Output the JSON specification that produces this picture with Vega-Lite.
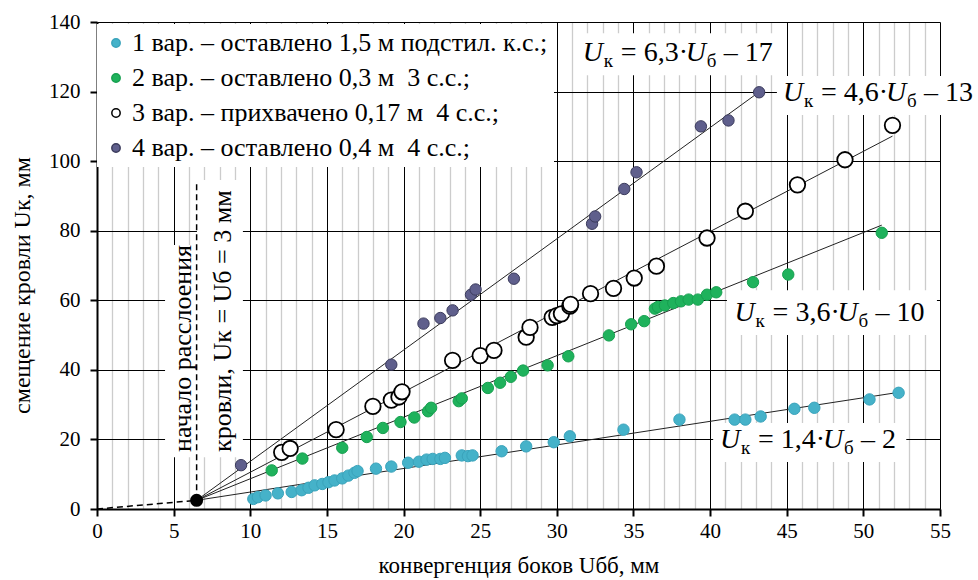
{
  "$schema": "https://vega.github.io/schema/vega-lite/v6.json",
  "width": 843,
  "height": 487,
  "autosize": {"type": "none"},
  "padding": {"left": 97, "top": 22, "right": 38, "bottom": 71},
  "background": "white",
  "config": {"view": {"stroke": null}, "font": "Liberation Serif"},
  "datasets": {
    "boxes": [
      {"x": 4.44, "xe": 6.52, "y": 14.9, "ye": 75.9},
      {"x": 6.52, "xe": 9.52, "y": 14.9, "ye": 94.6},
      {"x": 31.18, "xe": 45.0, "y": 124.7, "ye": 136.8},
      {"x": 44.36, "xe": 57.5, "y": 113.3, "ye": 124.5},
      {"x": 41.1, "xe": 54.8, "y": 50.0, "ye": 62.9},
      {"x": 40.2, "xe": 52.8, "y": 13.5, "ye": 24.7}
    ],
    "dash": [
      {"g": "a", "x": 0, "y": 0}, {"g": "a", "x": 6.5, "y": 2.5},
      {"g": "b", "x": 6.5, "y": 2.5}, {"g": "b", "x": 6.5, "y": 94}
    ],
    "fits": [
      {"g": "1", "x": 6.5, "y": 2.5}, {"g": "1", "x": 52.4, "y": 33.6},
      {"g": "2", "x": 6.5, "y": 2.5}, {"g": "2", "x": 51.2, "y": 81.6},
      {"g": "3", "x": 6.5, "y": 2.5}, {"g": "3", "x": 51.9, "y": 107.2},
      {"g": "4", "x": 6.5, "y": 2.5}, {"g": "4", "x": 43.3, "y": 120.2}
    ],
    "origin": [{"x": 6.5, "y": 2.5}],
    "pts": [
      {"s": "1", "x": 10.2, "y": 2.9}, {"s": "1", "x": 10.5, "y": 3.4}, {"s": "1", "x": 11.0, "y": 3.9},
      {"s": "1", "x": 11.8, "y": 4.5}, {"s": "1", "x": 12.7, "y": 4.9}, {"s": "1", "x": 13.35, "y": 5.4},
      {"s": "1", "x": 13.8, "y": 6.1}, {"s": "1", "x": 14.2, "y": 6.8}, {"s": "1", "x": 14.7, "y": 7.2},
      {"s": "1", "x": 15.1, "y": 7.7}, {"s": "1", "x": 15.5, "y": 8.2}, {"s": "1", "x": 16.0, "y": 8.8},
      {"s": "1", "x": 16.4, "y": 9.6}, {"s": "1", "x": 16.8, "y": 10.4}, {"s": "1", "x": 17.0, "y": 10.9},
      {"s": "1", "x": 18.2, "y": 11.6}, {"s": "1", "x": 19.2, "y": 12.2}, {"s": "1", "x": 20.3, "y": 13.3},
      {"s": "1", "x": 21.0, "y": 13.6}, {"s": "1", "x": 21.5, "y": 14.2}, {"s": "1", "x": 21.9, "y": 14.4},
      {"s": "1", "x": 22.4, "y": 14.4}, {"s": "1", "x": 22.7, "y": 14.7}, {"s": "1", "x": 23.8, "y": 15.4},
      {"s": "1", "x": 24.2, "y": 15.2}, {"s": "1", "x": 24.5, "y": 15.4}, {"s": "1", "x": 26.4, "y": 16.6},
      {"s": "1", "x": 28.0, "y": 18.0}, {"s": "1", "x": 29.8, "y": 19.2}, {"s": "1", "x": 30.85, "y": 20.9},
      {"s": "1", "x": 34.35, "y": 22.8}, {"s": "1", "x": 38.0, "y": 25.7}, {"s": "1", "x": 41.6, "y": 25.7},
      {"s": "1", "x": 42.3, "y": 25.7}, {"s": "1", "x": 43.3, "y": 26.6}, {"s": "1", "x": 45.5, "y": 28.8},
      {"s": "1", "x": 46.8, "y": 29.1}, {"s": "1", "x": 50.4, "y": 31.5}, {"s": "1", "x": 52.3, "y": 33.4},

      {"s": "2", "x": 11.4, "y": 11.1}, {"s": "2", "x": 13.4, "y": 14.5}, {"s": "2", "x": 16.0, "y": 17.6},
      {"s": "2", "x": 17.6, "y": 20.7}, {"s": "2", "x": 18.65, "y": 23.3}, {"s": "2", "x": 19.8, "y": 25.0},
      {"s": "2", "x": 20.7, "y": 26.3}, {"s": "2", "x": 21.6, "y": 28.1}, {"s": "2", "x": 21.8, "y": 29.1},
      {"s": "2", "x": 23.6, "y": 31.0}, {"s": "2", "x": 23.8, "y": 31.8}, {"s": "2", "x": 25.5, "y": 34.8},
      {"s": "2", "x": 26.3, "y": 36.3}, {"s": "2", "x": 27.0, "y": 38.0}, {"s": "2", "x": 27.8, "y": 39.8},
      {"s": "2", "x": 29.4, "y": 41.3}, {"s": "2", "x": 30.75, "y": 43.9}, {"s": "2", "x": 33.4, "y": 49.9},
      {"s": "2", "x": 34.85, "y": 53.1}, {"s": "2", "x": 35.7, "y": 54.0}, {"s": "2", "x": 36.4, "y": 57.6},
      {"s": "2", "x": 36.6, "y": 58.1}, {"s": "2", "x": 37.05, "y": 58.5}, {"s": "2", "x": 37.6, "y": 59.2},
      {"s": "2", "x": 38.1, "y": 59.7}, {"s": "2", "x": 38.6, "y": 60.2}, {"s": "2", "x": 39.2, "y": 60.2},
      {"s": "2", "x": 39.8, "y": 61.6}, {"s": "2", "x": 40.4, "y": 62.3}, {"s": "2", "x": 42.8, "y": 65.2},
      {"s": "2", "x": 45.1, "y": 67.4}, {"s": "2", "x": 51.2, "y": 79.4},

      {"s": "3", "x": 12.05, "y": 16.3}, {"s": "3", "x": 12.6, "y": 17.4}, {"s": "3", "x": 15.6, "y": 22.8},
      {"s": "3", "x": 18.0, "y": 29.5}, {"s": "3", "x": 19.2, "y": 31.3}, {"s": "3", "x": 19.7, "y": 32.2},
      {"s": "3", "x": 19.9, "y": 33.7}, {"s": "3", "x": 23.2, "y": 42.7}, {"s": "3", "x": 25.0, "y": 44.1},
      {"s": "3", "x": 25.9, "y": 45.6}, {"s": "3", "x": 28.0, "y": 49.4}, {"s": "3", "x": 28.25, "y": 52.2},
      {"s": "3", "x": 29.7, "y": 55.1}, {"s": "3", "x": 30.0, "y": 55.6}, {"s": "3", "x": 30.3, "y": 56.1},
      {"s": "3", "x": 30.85, "y": 58.3}, {"s": "3", "x": 30.9, "y": 58.8}, {"s": "3", "x": 32.2, "y": 61.9},
      {"s": "3", "x": 33.7, "y": 63.4}, {"s": "3", "x": 35.05, "y": 66.4}, {"s": "3", "x": 36.5, "y": 69.8},
      {"s": "3", "x": 39.8, "y": 77.9}, {"s": "3", "x": 42.3, "y": 85.6}, {"s": "3", "x": 45.7, "y": 93.2},
      {"s": "3", "x": 48.8, "y": 100.4}, {"s": "3", "x": 51.9, "y": 110.3},

      {"s": "4", "x": 9.4, "y": 12.6}, {"s": "4", "x": 19.2, "y": 41.5}, {"s": "4", "x": 21.3, "y": 53.3},
      {"s": "4", "x": 22.4, "y": 54.9}, {"s": "4", "x": 23.2, "y": 57.1}, {"s": "4", "x": 24.4, "y": 61.6},
      {"s": "4", "x": 24.7, "y": 63.1}, {"s": "4", "x": 27.2, "y": 66.2}, {"s": "4", "x": 32.3, "y": 82.0},
      {"s": "4", "x": 32.5, "y": 84.1}, {"s": "4", "x": 34.4, "y": 92.0}, {"s": "4", "x": 35.2, "y": 96.8},
      {"s": "4", "x": 39.4, "y": 110.0}, {"s": "4", "x": 41.2, "y": 111.7}, {"s": "4", "x": 43.2, "y": 119.8}
    ],
    "eqs": [
      {"a": "= 6,3·", "b": "– 17", "x": 31.7, "y": 131.1},
      {"a": "= 4,6·", "b": "– 13", "x": 44.75, "y": 119.6},
      {"a": "= 3,6·", "b": "– 10", "x": 41.6, "y": 56.3},
      {"a": "= 1,4·", "b": "– 2", "x": 40.64, "y": 19.8}
    ],
    "vt": [
      {"t": "начало расслоения", "x": 5.61, "y": 16.4},
      {"t": "кровли, Uк = Uб = 3 мм", "x": 8.22, "y": 16.4}
    ]
  },
  "encoding": {
    "x": {
      "field": "x", "type": "quantitative",
      "scale": {"domain": [0, 55], "nice": false, "zero": false},
      "axis": {
        "values": [0,1,2,3,4,5,6,7,8,9,10,11,12,13,14,15,16,17,18,19,20,21,22,23,24,25,26,27,28,29,30,31,32,33,34,35,36,37,38,39,40,41,42,43,44,45,46,47,48,49,50,51,52,53,54,55],
        "title": "конвергенция боков Uбб, мм",
        "titleFont": "Liberation Serif", "titleFontSize": 23, "titleFontWeight": "normal", "titleColor": "black",
        "titleX": 421.5, "titleY": 56, "titleBaseline": "middle", "titleAlign": "center",
        "labelExpr": "datum.value % 5 === 0 ? datum.label : ''",
        "labelFont": "Liberation Serif", "labelFontSize": 21, "labelColor": "black", "labelPadding": 4,
        "labelFlush": false, "labelOverlap": false,
        "grid": true,
        "gridColor": {"condition": {"test": "datum.value % 5 === 0", "value": "#000000"}, "value": "#cccccc"},
        "gridWidth": {"condition": {"test": "datum.value % 5 === 0", "value": 1}, "value": 1.3},
        "tickColor": "black",
        "tickOpacity": {"condition": {"test": "datum.value % 5 === 0", "value": 1}, "value": 0},
        "tickSize": 7, "tickWidth": 2,
        "domainColor": "black", "domainWidth": 2
      }
    },
    "y": {
      "field": "y", "type": "quantitative",
      "scale": {"domain": [0, 140], "nice": false, "zero": false},
      "axis": {
        "values": [0, 20, 40, 60, 80, 100, 120, 140],
        "title": "смещение кровли Uк, мм",
        "titleFont": "Liberation Serif", "titleFontSize": 24, "titleFontWeight": "normal", "titleColor": "black",
        "titleX": -75, "titleY": 263, "titleAngle": -90, "titleBaseline": "middle", "titleAlign": "center",
        "labelFont": "Liberation Serif", "labelFontSize": 21, "labelColor": "black", "labelPadding": 10,
        "grid": true, "gridColor": "black", "gridWidth": 1,
        "tickColor": "black", "tickSize": 7, "tickWidth": 2,
        "domainColor": "black", "domainWidth": 2
      }
    }
  },
  "layer": [
    {
      "data": {"name": "boxes"},
      "mark": {"type": "rect", "fill": "white", "strokeWidth": 0},
      "encoding": {
        "x2": {"field": "xe"},
        "y2": {"field": "ye"}
      }
    },
    {
      "data": {"name": "dash"},
      "mark": {"type": "line", "strokeDash": [6, 4], "color": "black", "strokeWidth": 1.5},
      "encoding": {"detail": {"field": "g"}}
    },
    {
      "data": {"name": "fits"},
      "mark": {"type": "line", "color": "#222222", "strokeWidth": 1},
      "encoding": {"detail": {"field": "g"}}
    },
    {
      "data": {"name": "pts"},
      "mark": {"type": "point", "shape": "circle", "filled": true, "opacity": 1},
      "encoding": {
        "fill": {
          "field": "s", "type": "nominal",
          "scale": {"domain": ["1", "2", "3", "4"], "range": ["#45b2c9", "#1fb25c", "#ffffff", "#5f5f8c"]},
          "legend": {
            "orient": "none", "legendX": 0, "legendY": 2, "title": null,
            "fillColor": "white", "padding": 6, "rowPadding": 9,
            "labelFont": "Liberation Serif", "labelFontSize": 26, "labelColor": "black", "labelLimit": 0, "labelOffset": 3,
            "symbolType": "circle", "symbolSize": 70, "symbolStrokeWidth": 1.5,
            "labelExpr": "datum.label == '1' ? '1 вар. – оставлено 1,5 м подстил. к.с.;' : datum.label == '2' ? '2 вар. – оставлено 0,3 м\u00a0 3 с.с.;' : datum.label == '3' ? '3 вар. – прихвачено 0,17 м\u00a0 4 с.с.;' : '4 вар. – оставлено 0,4 м\u00a0 4 с.с.;'"
          }
        },
        "stroke": {
          "field": "s", "type": "nominal",
          "scale": {"domain": ["1", "2", "3", "4"], "range": ["#3aa3bb", "#17a050", "#000000", "#3b3b5c"]},
          "legend": {
            "orient": "none", "legendX": 0, "legendY": 2, "title": null,
            "fillColor": "white", "padding": 6, "rowPadding": 9,
            "labelFont": "Liberation Serif", "labelFontSize": 26, "labelColor": "black", "labelLimit": 0, "labelOffset": 3,
            "symbolType": "circle", "symbolSize": 70, "symbolStrokeWidth": 1.5,
            "labelExpr": "datum.label == '1' ? '1 вар. – оставлено 1,5 м подстил. к.с.;' : datum.label == '2' ? '2 вар. – оставлено 0,3 м\u00a0 3 с.с.;' : datum.label == '3' ? '3 вар. – прихвачено 0,17 м\u00a0 4 с.с.;' : '4 вар. – оставлено 0,4 м\u00a0 4 с.с.;'"
          }
        },
        "size": {"condition": {"test": "datum.s == '3'", "value": 240}, "value": 130},
        "strokeWidth": {"condition": {"test": "datum.s == '3'", "value": 1.8}, "value": 1}
      }
    },
    {
      "data": {"name": "origin"},
      "mark": {"type": "point", "shape": "circle", "filled": true, "color": "black", "size": 170, "opacity": 1}
    },
    {
      "data": {"name": "eqs"},
      "mark": {"type": "text", "font": "Liberation Serif", "fontSize": 28, "fontStyle": "italic", "color": "black", "align": "left", "baseline": "middle", "dx": 0},
      "encoding": {"text": {"value": "U"}}
    },
    {
      "data": {"name": "eqs"},
      "mark": {"type": "text", "font": "Liberation Serif", "fontSize": 19, "color": "black", "align": "left", "baseline": "middle", "dx": 21, "dy": 8},
      "encoding": {"text": {"value": "к"}}
    },
    {
      "data": {"name": "eqs"},
      "mark": {"type": "text", "font": "Liberation Serif", "fontSize": 28, "color": "black", "align": "left", "baseline": "middle", "dx": 38},
      "encoding": {"text": {"field": "a"}}
    },
    {
      "data": {"name": "eqs"},
      "mark": {"type": "text", "font": "Liberation Serif", "fontSize": 28, "fontStyle": "italic", "color": "black", "align": "left", "baseline": "middle", "dx": 103},
      "encoding": {"text": {"value": "U"}}
    },
    {
      "data": {"name": "eqs"},
      "mark": {"type": "text", "font": "Liberation Serif", "fontSize": 19, "color": "black", "align": "left", "baseline": "middle", "dx": 124, "dy": 8},
      "encoding": {"text": {"value": "б"}}
    },
    {
      "data": {"name": "eqs"},
      "mark": {"type": "text", "font": "Liberation Serif", "fontSize": 28, "color": "black", "align": "left", "baseline": "middle", "dx": 141},
      "encoding": {"text": {"field": "b"}}
    },
    {
      "data": {"name": "vt"},
      "mark": {"type": "text", "font": "Liberation Serif", "fontSize": 26, "color": "black", "align": "left", "baseline": "middle", "angle": 270},
      "encoding": {"text": {"field": "t"}}
    }
  ]
}
